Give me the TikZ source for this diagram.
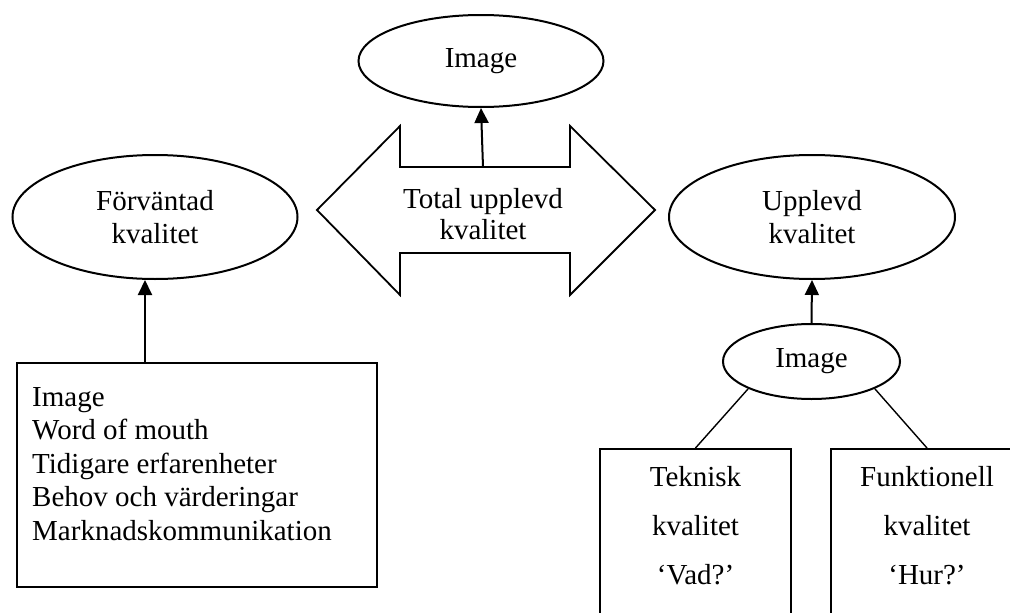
\documentclass[tikz,border=0pt]{standalone}
\usepackage{fontspec}
\setmainfont{Liberation Serif}
\usetikzlibrary{shapes.geometric,arrows.meta}
\tikzset{
  lw/.style={line width=2pt},
  ell/.style={draw, lw, ellipse, inner sep=0pt, align=center, font=\fontsize{29}{33}\selectfont},
  boxnode/.style={draw, lw, rectangle, inner sep=0pt},
  txt/.style={inner sep=0pt, font=\fontsize{29}{33.5}\selectfont},
  arr/.style={lw, -{Triangle[length=15pt,width=14pt]}},
  thinline/.style={line width=1.4pt}
}
\begin{document}
\begin{tikzpicture}[x=1pt,y=-1pt]
\useasboundingbox (0,0) rectangle (1010,613);
\fill[white] (0,0) rectangle (1010,613);
\clip (0,0) rectangle (1010,613);
% top image
\node[ell, minimum width=245pt, minimum height=92pt] (ti) at (481,61) {Image};
% double arrow
\draw[line width=1.8pt, line join=miter] (317,210) -- (400,126) -- (400,167) -- (570,167) -- (570,126) -- (655,210) -- (570,295) -- (570,253) -- (400,253) -- (400,295) -- cycle;
\node[txt, align=center, font=\fontsize{29}{31}\selectfont] (tu) at (483,214) {Total upplevd\\kvalitet};
\coordinate (tua) at (483,167);
\draw[arr] (tua) -- (ti.south);
% side ellipses
\node[ell, minimum width=285pt, minimum height=124pt] (le) at (155,217) {Förväntad\\kvalitet};
\node[ell, minimum width=286pt, minimum height=124pt] (re) at (812,217) {Upplevd\\kvalitet};
% left box
\node[boxnode, minimum width=360pt, minimum height=224pt] (lb) at (197,475) {};
\node[txt, anchor=north west, align=left] (lt) at (32,387) {Image\\Word of mouth\\Tidigare erfarenheter\\Behov och värderingar\\Marknadskommunikation};
\coordinate (la) at (145,363);
\draw[arr] (la) -- (la |- le.south);
% small image
\node[ell, minimum width=177pt, minimum height=75pt] (si) at (811.5,361.5) {Image};
\draw[arr] (si.north) -- (re.south);
% bottom boxes
\node[boxnode, minimum width=191pt, minimum height=220pt, anchor=north] (bt) at (695.5,448) {};
\node[boxnode, minimum width=192pt, minimum height=220pt, anchor=north] (bf) at (927,448) {};
\node[txt, anchor=north, align=center, font=\fontsize{29}{49}\selectfont] (btt) at (695.5,466) {Teknisk\\kvalitet\\‘Vad?’};
\node[txt, anchor=north, align=center, font=\fontsize{29}{49}\selectfont] (bft) at (927,466) {Funktionell\\kvalitet\\‘Hur?’};
\draw[thinline] (si.south west) -- (bt.north);
\draw[thinline] (si.south east) -- (bf.north);
\end{tikzpicture}
\end{document}
